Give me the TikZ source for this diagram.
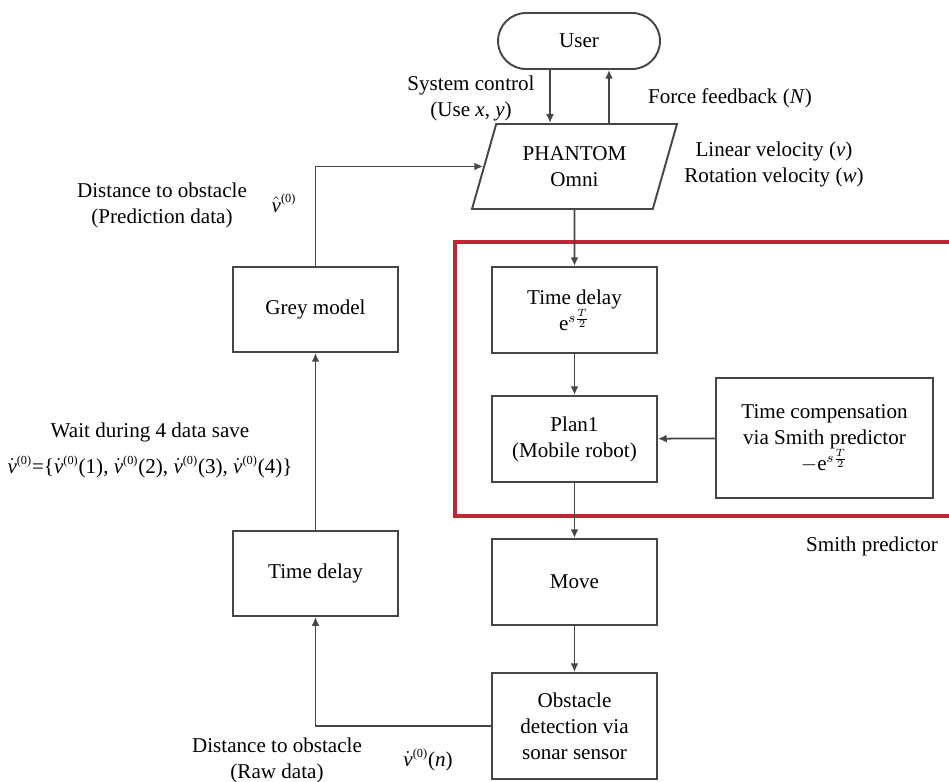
\documentclass[tikz,border=0pt]{standalone}
\usepackage{fontspec}
\setmainfont{Liberation Serif}
\usepackage{amsmath}
\usepackage{tikz}
\usetikzlibrary{arrows.meta,shapes.geometric}
\definecolor{smithred}{RGB}{190,38,48}
\definecolor{boxgrey}{RGB}{70,70,70}
\newcommand{\supzero}{^{\mbox{\fontsize{7}{7}\selectfont(0)}}}
\newcommand{\vdt}{\ensuremath{\dot{\textit{v}}\supzero}}
\tikzstyle{block}=[draw=boxgrey,line width=1.1pt,minimum width=3.3cm,minimum height=1.72cm,align=center]
\tikzstyle{terminal}=[draw=boxgrey,line width=1.1pt,rounded corners=0.56cm,minimum width=3.24cm,minimum height=1.12cm]
\tikzstyle{io}=[trapezium,trapezium left angle=65,trapezium right angle=115,trapezium stretches body,draw=boxgrey,line width=1.1pt,minimum width=4.1cm,minimum height=1.7cm,align=center]
\tikzstyle{label}=[align=center,inner sep=0pt]
\tikzstyle{line} = [draw=boxgrey,line width=1pt,-{Latex[length=5pt,width=4.5pt]}]

\begin{document}
\begin{tikzpicture}[x=0.02cm,y=-0.02cm,font=\fontsize{12}{14.8}\selectfont]
  \useasboundingbox (0,0) rectangle (949,781);
  % smith predictor frame
  \draw[smithred,line width=2.3pt] (949,242) -- (455,242) -- (455,516) -- (949,516);
  \node[label] (smith) at (872,546) {Smith predictor};

  \node[terminal] (user) at (579,41) {User};
  \node[io] (phantom) at (574.5,166.5) {PHANTOM\\Omni};
  \node[block] (delayA) at (574.5,310) {Time delay\\e$^{s\frac{T}{2}}$};
  \node[block] (plan) at (574.5,439) {Plan1\\(Mobile robot)};
  \node[block,minimum width=4.34cm,minimum height=2.4cm] (comp) at (824.5,438) {Time compensation\\via Smith predictor\\$-$e$^{s\frac{T}{2}}$};
  \node[block] (move) at (574.5,582) {Move};
  \node[block,minimum height=2.12cm] (obstacle) at (574.5,726) {Obstacle\\detection via\\sonar sensor};
  \node[block,minimum height=1.7cm] (grey) at (315.5,309.5) {Grey model};
  \node[block,minimum height=1.7cm] (delayB) at (315.5,573.5) {Time delay};

  % texts
  \node[label] (syscontrol) at (471,98) {System control\\(Use \textit{x}, \textit{y})};
  \node[label] (force) at (730,98) {Force feedback (\textit{N})};
  \node[label] (velocity) at (774,164) {Linear velocity (\textit{v})\\Rotation velocity (\textit{w})};
  \node[label] (prediction) at (162,205) {Distance to obstacle\\(Prediction data)};
  \node[label] (vhat) at (284,203) {$\hat{\textit{v}}\supzero$};
  \node[label] (wait) at (150,432) {Wait during 4 data save};
  \node[label] (sequence) at (150,467) {\vdt=\{\vdt(1), \vdt(2), \vdt(3), \vdt(4)\}};
  \node[label] (rawdata) at (277,760) {Distance to obstacle\\(Raw data)};
  \node[label] (vn) at (428,760) {\vdt(\textit{n})};

  % connectors
  \path [line] ([xshift=-0.58cm]user.south) -- ([xshift=-0.58cm]user.south |- phantom.north);
  \path [line] ([xshift=0.6cm]user.south |- phantom.north) -- ([xshift=0.6cm]user.south);
  \path [line] (phantom.south) -- (delayA.north);
  \path [line] (delayA) -- (plan);
  \path [line] (comp) -- (plan);
  \path [line] (plan) -- (move);
  \path [line] (move) -- (obstacle);
  \path [line] (obstacle.west) -| (delayB.south);
  \path [line] (delayB) -- (grey);
  \path [line] (grey.north) |- (phantom.west);
\end{tikzpicture}
\end{document}
